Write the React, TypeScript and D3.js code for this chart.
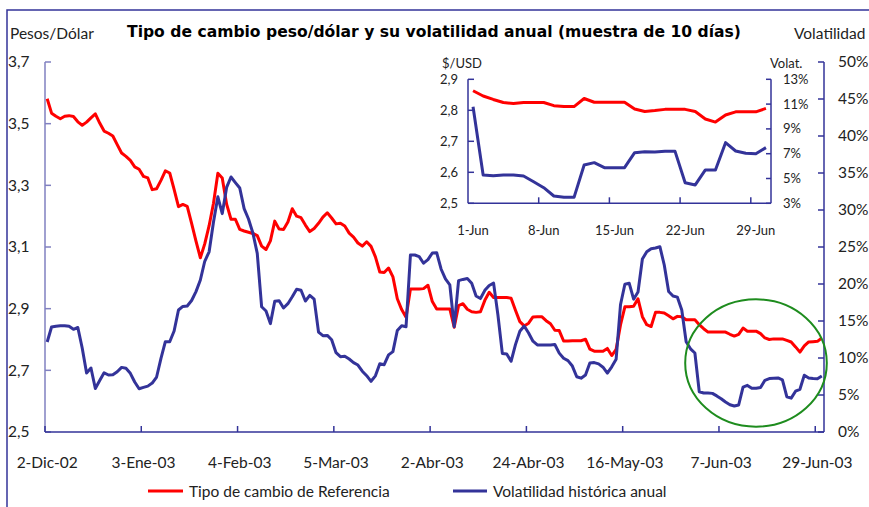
import React from 'react';
import * as d3 from 'd3';

// Main chart: 178 trading days, 2-Dic-02 .. 30-Jun-03
const xTickLabels = ['2-Dic-02', '3-Ene-03', '4-Feb-03', '5-Mar-03', '2-Abr-03', '24-Abr-03', '16-May-03', '7-Jun-03', '29-Jun-03'];
const leftTicks = [2.5, 2.7, 2.9, 3.1, 3.3, 3.5, 3.7];
const rightTicks = [0, 5, 10, 15, 20, 25, 30, 35, 40, 45, 50];

// Tipo de cambio de referencia (pesos por dólar)
const rateRef = [
  3.581, 3.534, 3.524, 3.516, 3.524, 3.526, 3.523, 3.506, 3.495, 3.505,
  3.519, 3.532, 3.502, 3.476, 3.469, 3.460, 3.432, 3.405, 3.394, 3.381,
  3.360, 3.352, 3.329, 3.324, 3.286, 3.289, 3.316, 3.347, 3.340, 3.287,
  3.231, 3.238, 3.232, 3.177, 3.119, 3.065, 3.110, 3.169, 3.242, 3.339,
  3.324, 3.239, 3.190, 3.190, 3.157, 3.152, 3.148, 3.144, 3.137, 3.103,
  3.092, 3.120, 3.184, 3.158, 3.157, 3.181, 3.224, 3.200, 3.195, 3.171,
  3.150, 3.160, 3.177, 3.197, 3.211, 3.194, 3.175, 3.177, 3.168, 3.145,
  3.132, 3.113, 3.103, 3.117, 3.102, 3.068, 3.019, 3.017, 3.032, 3.003,
  2.932, 2.897, 2.872, 2.964, 2.964, 2.964, 2.965, 2.976, 2.923, 2.899,
  2.899, 2.899, 2.899, 2.840, 2.910, 2.916, 2.898, 2.890, 2.888, 2.890,
  2.927, 2.953, 2.936, 2.936, 2.936, 2.936, 2.934, 2.895, 2.858, 2.844,
  2.853, 2.873, 2.874, 2.874, 2.861, 2.851, 2.830, 2.829, 2.795, 2.795,
  2.796, 2.796, 2.796, 2.801, 2.769, 2.762, 2.762, 2.762, 2.771, 2.748,
  2.768, 2.847, 2.906, 2.906, 2.908, 2.932, 2.874, 2.848, 2.842, 2.888,
  2.888, 2.886, 2.877, 2.867, 2.875, 2.874, 2.864, 2.864, 2.864, 2.848,
  2.835, 2.824, 2.824, 2.824, 2.824, 2.824, 2.817, 2.811, 2.817, 2.837,
  2.827, 2.827, 2.827, 2.819, 2.805, 2.800, 2.802, 2.802, 2.802, 2.797,
  2.792, 2.776, 2.759, 2.779, 2.792, 2.793, 2.794, 2.805,
];

// Volatilidad histórica anual (%)
const volHist = [
  12.16, 14.19, 14.30, 14.36, 14.36, 14.28, 13.88, 14.12, 11.35, 7.97,
  8.65, 5.88, 6.96, 8.00, 7.70, 7.73, 8.14, 8.73, 8.61, 7.93,
  6.76, 5.84, 6.03, 6.20, 6.61, 7.43, 9.95, 12.20, 12.20, 13.65,
  16.49, 16.97, 17.03, 17.77, 18.97, 20.54, 23.07, 24.35, 28.38, 31.78,
  29.51, 33.05, 34.46, 33.70, 32.97, 30.19, 28.78, 26.89, 24.14, 16.92,
  16.35, 14.65, 17.66, 17.73, 16.76, 17.34, 18.27, 19.28, 19.16, 17.70,
  18.46, 17.95, 13.51, 13.01, 13.05, 12.47, 10.72, 10.18, 10.24, 9.86,
  9.38, 9.05, 8.22, 7.61, 6.85, 7.59, 9.22, 9.09, 10.42, 10.86,
  13.72, 14.36, 14.23, 23.92, 23.92, 23.70, 22.81, 23.30, 24.19, 24.23,
  22.03, 20.68, 19.89, 14.23, 20.46, 20.62, 20.73, 20.09, 18.38, 18.03,
  19.14, 19.80, 20.12, 15.77, 10.62, 10.55, 9.55, 11.81, 13.61, 14.32,
  13.38, 12.27, 11.76, 11.76, 11.76, 11.76, 11.82, 10.66, 9.96, 9.64,
  8.91, 7.47, 7.27, 7.69, 9.32, 9.38, 9.20, 8.76, 7.96, 8.81,
  9.82, 17.19, 19.97, 20.09, 17.95, 18.92, 23.38, 24.35, 24.77, 24.86,
  25.04, 22.57, 18.99, 18.38, 18.22, 16.49, 12.19, 11.24, 10.68, 5.43,
  5.27, 5.26, 5.22, 4.88, 4.50, 4.05, 3.68, 3.51, 3.65, 6.05,
  6.30, 5.91, 5.91, 6.01, 6.99, 7.22, 7.27, 7.31, 7.05, 4.77,
  4.58, 5.51, 5.77, 7.68, 7.31, 7.22, 7.20, 7.57,
];

// Inset: June 2003, daily
const insetDays = ['1-Jun', '8-Jun', '15-Jun', '22-Jun', '29-Jun'];
const insetLeftTicks = [2.5, 2.6, 2.7, 2.8, 2.9];
const insetRightTicks = [3, 5, 7, 9, 11, 13];
const insetRate = [
  2.863, 2.846, 2.835, 2.825, 2.822, 2.825, 2.825, 2.825, 2.815, 2.812,
  2.812, 2.838, 2.826, 2.826, 2.826, 2.826, 2.804, 2.796, 2.799, 2.803,
  2.803, 2.803, 2.796, 2.772, 2.762, 2.785, 2.795, 2.795, 2.795, 2.806,
];
const insetVol = [
  10.79, 5.28, 5.23, 5.28, 5.28, 5.20, 4.74, 4.26, 3.59, 3.48,
  3.48, 6.09, 6.28, 5.87, 5.87, 5.87, 7.08, 7.16, 7.14, 7.19,
  7.19, 4.66, 4.48, 5.69, 5.69, 7.89, 7.22, 7.03, 7.00, 7.49,
];

const RED = '#ff0000';
const BLUE = '#333399';
const FONT = "Lato, 'Open Sans', sans-serif";

const comma = (v: number) => d3.format('.1f')(v).replace('.', ',');

export default function App() {
  const W = 869;
  const H = 507;

  // main plot area
  const left = 45, right = 824, top = 62, bottom = 432;
  const n = rateRef.length;
  const x = d3.scaleLinear().domain([0, n]).range([left, right]);
  const yL = d3.scaleLinear().domain([2.5, 3.7]).range([bottom, top]);
  const yR = d3.scaleLinear().domain([0, 50]).range([bottom, top]);

  const rateLine = d3.line<number>().x((_, i) => x(i + 0.5)).y((d) => yL(d));
  const volLine = d3.line<number>().x((_, i) => x(i + 0.5)).y((d) => yR(d));

  // inset area
  const iL = 468, iR = 771, iT = 79.3, iB = 203.3;
  const nd = insetRate.length;
  const xi = d3.scaleLinear().domain([0, nd]).range([iL, iR]);
  const yiL = d3.scaleLinear().domain([2.5, 2.9]).range([iB, iT]);
  const yiR = d3.scaleLinear().domain([3, 13]).range([iB, iT]);
  const inRateLine = d3.line<number>().x((_, i) => xi(i + 0.5)).y((d) => yiL(d));
  const inVolLine = d3.line<number>().x((_, i) => xi(i + 0.5)).y((d) => yiR(d));

  const tickEvery = 22;

  return (
    <svg width={W} height={H} style={{ position: 'absolute', left: 0, top: 0, display: 'block', background: '#fff' }} fontFamily={FONT}>
      {/* frame */}
      <rect x={7} y={10} width={W + 10} height={H + 10} fill="#fff" stroke={BLUE} strokeWidth={1.5} />

      <text x={127} y={37} fontSize={15} fontWeight="bold" fill="#000" fontFamily="'DejaVu Sans', sans-serif"
        textLength={614} lengthAdjust="spacingAndGlyphs">
        Tipo de cambio peso/dólar y su volatilidad anual (muestra de 10 días)
      </text>
      <text x={10} y={39} fontSize={15.5} fill="#222">Pesos/Dólar</text>
      <text x={794} y={39} fontSize={15.5} fill="#222">Volatilidad</text>

      {/* left axis */}
      <line x1={left} x2={left} y1={top} y2={bottom} stroke="#8080c0" strokeWidth={1.5} />
      {leftTicks.map((t) => (
        <g key={t}>
          <line x1={left} x2={left + 6} y1={yL(t)} y2={yL(t)} stroke="#8080c0" strokeWidth={1.5} />
          <text x={8} y={yL(t)} dy="0.35em" fontSize={15.5} fill="#222">{comma(t)}</text>
        </g>
      ))}

      {/* right axis */}
      <line x1={right} x2={right} y1={top} y2={bottom} stroke={BLUE} strokeWidth={1.5} />
      {rightTicks.map((t) => (
        <g key={t}>
          <line x1={right - 6} x2={right} y1={yR(t)} y2={yR(t)} stroke={BLUE} strokeWidth={1.5} />
          <text x={838} y={yR(t)} dy="0.35em" fontSize={15.5} fill="#222">{t}%</text>
        </g>
      ))}

      {/* bottom axis */}
      <line x1={left} x2={right} y1={bottom} y2={bottom} stroke={BLUE} strokeWidth={1.5} />
      {xTickLabels.map((lab, k) => (
        <g key={lab}>
          <line x1={x(k * tickEvery)} x2={x(k * tickEvery)} y1={bottom - 6} y2={bottom} stroke={BLUE} strokeWidth={1.5} />
          <text x={x(k * tickEvery + 0.5)} y={468} textAnchor="middle" fontSize={15.5} fill="#222">{lab}</text>
        </g>
      ))}

      {/* series */}
      <path d={rateLine(rateRef) || ''} fill="none" stroke={RED} strokeWidth={3} strokeLinejoin="round" />
      <path d={volLine(volHist) || ''} fill="none" stroke={BLUE} strokeWidth={3} strokeLinejoin="round" />

      {/* highlight of June */}
      <ellipse cx={756} cy={363} rx={70.8} ry={63.7} fill="none" stroke="#1e8c1e" strokeWidth={2} />

      {/* inset */}
      <text x={442} y={68} fontSize={13} fill="#222">$/USD</text>
      <text x={770} y={68} fontSize={13} fill="#222">Volat.</text>
      <line x1={iL} x2={iL} y1={iT} y2={iB} stroke={BLUE} strokeWidth={1.5} />
      {insetLeftTicks.map((t) => (
        <g key={t}>
          <line x1={iL} x2={iL + 6} y1={yiL(t)} y2={yiL(t)} stroke={BLUE} strokeWidth={1.5} />
          <text x={440} y={yiL(t)} dy="0.35em" fontSize={13} fill="#222">{comma(t)}</text>
        </g>
      ))}
      <line x1={iR} x2={iR} y1={iT} y2={iB} stroke={BLUE} strokeWidth={1.5} />
      {insetRightTicks.map((t) => (
        <g key={t}>
          <line x1={iR - 5} x2={iR} y1={yiR(t)} y2={yiR(t)} stroke={BLUE} strokeWidth={1.5} />
          <text x={783} y={yiR(t)} dy="0.35em" fontSize={13} fill="#222">{t}%</text>
        </g>
      ))}
      <line x1={iL} x2={iR} y1={iB} y2={iB} stroke={BLUE} strokeWidth={1.5} />
      {insetDays.map((lab, k) => (
        <g key={lab}>
          {k > 0 && <line x1={xi(k * 7)} x2={xi(k * 7)} y1={iB - 6} y2={iB} stroke={BLUE} strokeWidth={1.5} />}
          <text x={xi(k * 7 + 0.5)} y={235} textAnchor="middle" fontSize={13} fill="#222">{lab}</text>
        </g>
      ))}
      <path d={inRateLine(insetRate) || ''} fill="none" stroke={RED} strokeWidth={3} strokeLinejoin="round" />
      <path d={inVolLine(insetVol) || ''} fill="none" stroke={BLUE} strokeWidth={3} strokeLinejoin="round" />

      {/* legend */}
      <line x1={148} x2={183} y1={491} y2={491} stroke={RED} strokeWidth={3} />
      <text x={189} y={497} fontSize={15.5} fill="#222">Tipo de cambio de Referencia</text>
      <line x1={453} x2={487} y1={491} y2={491} stroke={BLUE} strokeWidth={3} />
      <text x={493} y={497} fontSize={15.5} fill="#222">Volatilidad histórica anual</text>
    </svg>
  );
}
